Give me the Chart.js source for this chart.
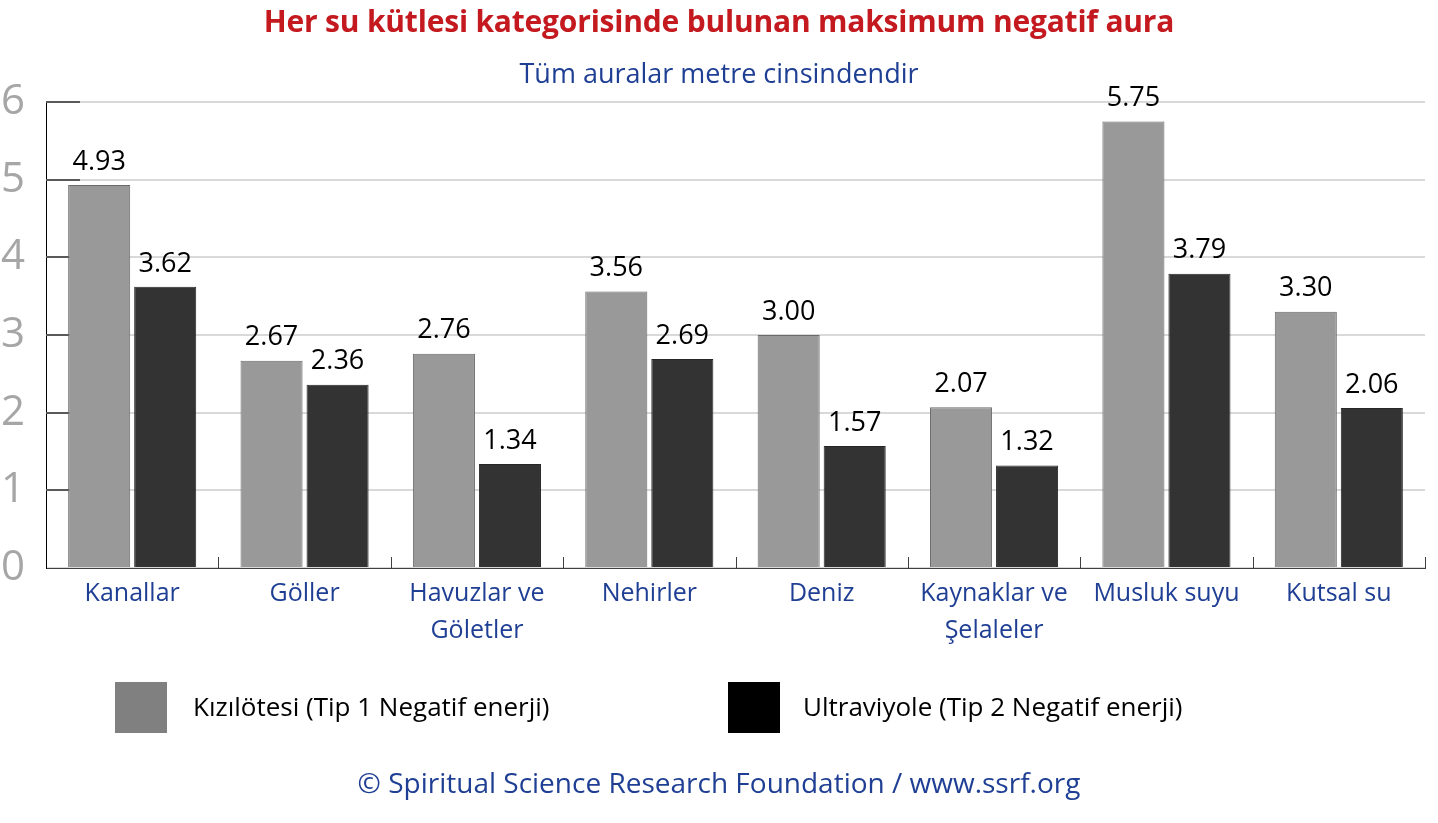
<!DOCTYPE html>
<html>
<head>
<meta charset="utf-8">
<script src="https://cdn.jsdelivr.net/npm/chart.js@4.4.1/dist/chart.umd.min.js"></script>
<style>
  html, body { margin: 0; padding: 0; background: #fff; }
  body { width: 1438px; height: 823px; position: relative; overflow: hidden; font-family: "Open Sans", Lato, sans-serif; }
  #wrap { position: absolute; left: 0; top: 0; width: 1438px; height: 823px; }
  .txt { position: absolute; white-space: nowrap; line-height: 1; }
  #title { left: 0; width: 1438px; text-align: center; top: 6px; font-size: 30px; font-weight: bold; color: #c41a1f; letter-spacing: -0.2px; }
  #subtitle { left: 0; width: 1438px; text-align: center; top: 59px; font-size: 27px; color: #1f3f94; }
  #footer { left: 0; width: 1438px; text-align: center; top: 768px; font-size: 28px; color: #1f3f94; }
  .lgbox { position: absolute; width: 52px; height: 51px; top: 682px; }
  .lgtxt { position: absolute; top: 693px; font-size: 26px; color: #000; }
</style>
</head>
<body>
<div id="wrap"><canvas id="c" width="1438" height="823"></canvas></div>
<div id="title" class="txt">Her su kütlesi kategorisinde bulunan maksimum negatif aura</div>
<div id="subtitle" class="txt">Tüm auralar metre cinsindendir</div>
<div id="legend"></div>
<div id="footer" class="txt">© Spiritual Science Research Foundation / www.ssrf.org</div>
<script>
// ---- data ----
const categories = [
  ["Kanallar"], ["Göller"], ["Havuzlar ve", "Göletler"], ["Nehirler"],
  ["Deniz"], ["Kaynaklar ve", "Şelaleler"], ["Musluk suyu"], ["Kutsal su"]
];
const seriesNames = ["Kızılötesi (Tip 1 Negatif enerji)", "Ultraviyole (Tip 2 Negatif enerji)"];
const infrared = [4.93, 2.67, 2.76, 3.56, 3.00, 2.07, 5.75, 3.30];
const ultraviolet = [3.62, 2.36, 1.34, 2.69, 1.57, 1.32, 3.79, 2.06];
const yTicks = [0, 1, 2, 3, 4, 5, 6];

// ---- styles ----
const barColors = ["#999999", "#333333"];
const barBorders = ["#6a6a6a", "#262626"];
const legendColors = ["#808080", "#000000"];
const legendPos = [{box: 115, text: 193}, {box: 728, text: 803}];
const FONT = "'Open Sans', Lato, sans-serif";

// HTML legend
const lg = document.getElementById('legend');
seriesNames.forEach((n, i) => {
  const b = document.createElement('div');
  b.className = 'lgbox'; b.style.left = legendPos[i].box + 'px'; b.style.background = legendColors[i];
  lg.appendChild(b);
  const t = document.createElement('div');
  t.className = 'txt lgtxt'; t.style.left = legendPos[i].text + 'px'; t.textContent = n;
  lg.appendChild(t);
});

const decorPlugin = {
  id: 'decor',
  beforeDatasetsDraw(chart) {
    const {ctx, scales: {x, y}, chartArea} = chart;
    ctx.save();
    // dark inner ticks on y axis
    ctx.strokeStyle = '#595959';
    ctx.lineWidth = 2;
    yTicks.forEach(v => {
      if (v === 0) return;
      const py = Math.round(y.getPixelForValue(v));
      ctx.beginPath(); ctx.moveTo(chartArea.left, py); ctx.lineTo(chartArea.left + 34, py); ctx.stroke();
    });
    // category separator ticks on x axis
    ctx.strokeStyle = '#404040';
    ctx.lineWidth = 1;
    const n = categories.length;
    const step = x.getPixelForValue(1) - x.getPixelForValue(0);
    for (let i = 1; i <= n; i++) {
      const px = Math.round(x.getPixelForValue(i - 1) + step / 2) + 0.5;
      ctx.beginPath(); ctx.moveTo(px, chartArea.bottom); ctx.lineTo(px, chartArea.bottom - 11); ctx.stroke();
    }
    ctx.restore();
  },
  afterDatasetsDraw(chart) {
    const {ctx} = chart;
    ctx.save();
    ctx.font = "27px " + FONT;
    ctx.fillStyle = '#000';
    ctx.textAlign = 'center';
    ctx.textBaseline = 'middle';
    chart.data.datasets.forEach((ds, di) => {
      chart.getDatasetMeta(di).data.forEach((bar, i) => {
        ctx.fillText(ds.data[i].toFixed(2), bar.x, bar.y - 23);
      });
    });
    ctx.restore();
  }
};

new Chart(document.getElementById('c'), {
  type: 'bar',
  data: {
    labels: categories,
    datasets: [
      { label: seriesNames[0], data: infrared, backgroundColor: barColors[0], borderColor: barBorders[0], borderWidth: 1,
        categoryPercentage: 0.766, barPercentage: 0.94 },
      { label: seriesNames[1], data: ultraviolet, backgroundColor: barColors[1], borderColor: barBorders[1], borderWidth: 1,
        categoryPercentage: 0.766, barPercentage: 0.94 }
    ]
  },
  options: {
    responsive: false,
    animation: false,
    layout: { padding: { left: 0, right: 13, top: 102, bottom: 175 } },
    plugins: { legend: { display: false }, title: { display: false }, tooltip: { enabled: false } },
    scales: {
      x: {
        grid: { display: false },
        border: { display: true, color: '#404040', width: 1 },
        ticks: { color: '#1f3f94', font: { family: FONT, size: 25, lineHeight: 1.45 }, padding: 0, maxRotation: 0, autoSkip: false },
        afterFit(s) { s.height = 80; }
      },
      y: {
        min: 0, max: 6,
        afterBuildTicks(s) { s.ticks = yTicks.map(v => ({ value: v })); },
        grid: { color: '#d9d9d9', lineWidth: 2, drawTicks: false },
        border: { display: true, color: '#000', width: 1 },
        ticks: { color: '#a6a6a6', font: { family: FONT, size: 42 }, padding: 21 },
        afterFit(s) { s.width = 46; }
      }
    }
  },
  plugins: [decorPlugin]
});
</script>
</body>
</html>
